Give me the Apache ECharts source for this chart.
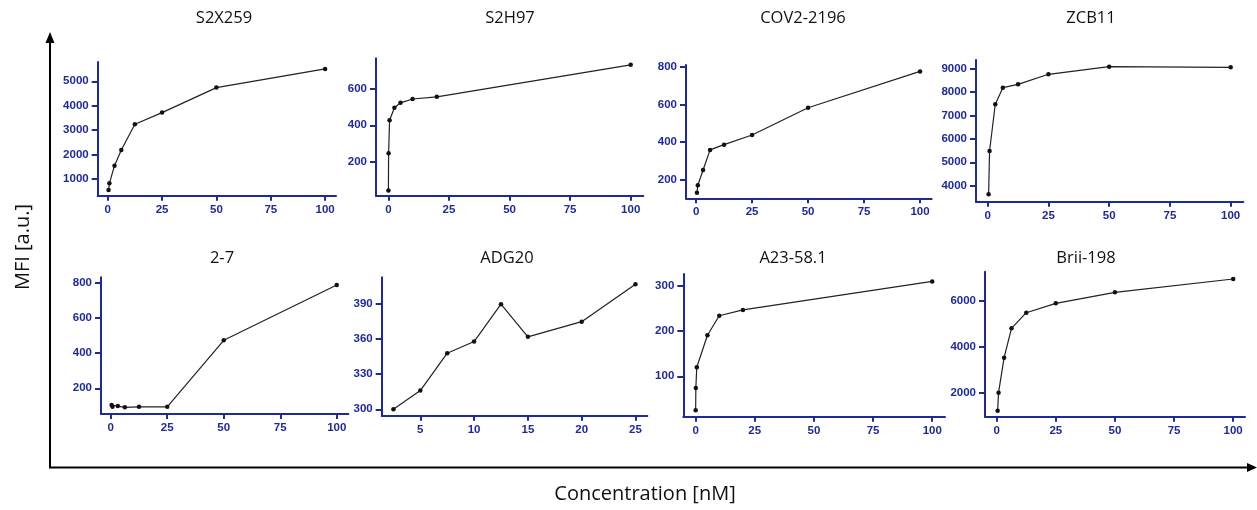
<!DOCTYPE html>
<html>
<head>
<meta charset="utf-8">
<script src="https://cdn.jsdelivr.net/npm/echarts@6/dist/echarts.min.js"></script>
<style>
  html, body { margin: 0; padding: 0; background: #ffffff; }
  #chart { width: 1257px; height: 510px; }
</style>
</head>
<body>
<div id="chart"></div>
<script>
// Antibody binding titration: MFI versus concentration, one panel per antibody.
const titles = ['S2X259', 'S2H97', 'COV2-2196', 'ZCB11', '2-7', 'ADG20', 'A23-58.1', 'Brii-198'];

// Concentrations [nM]
const s2x259Conc = [0.39, 0.78, 3.125, 6.25, 12.5, 25, 50, 100];
const s2h97Conc = [0.02, 0.1, 0.5, 2.5, 5, 10, 20, 100];
const cov2196Conc = [0.39, 0.78, 3.125, 6.25, 12.5, 25, 50, 100];
const zcb11Conc = [0.39, 0.78, 3.125, 6.25, 12.5, 25, 50, 100];
const ab27Conc = [0.39, 0.78, 3.125, 6.25, 12.5, 25, 50, 100];
const adg20Conc = [2.5, 5, 7.5, 10, 12.5, 15, 20, 25];
const a2358Conc = [0.02, 0.1, 0.5, 5, 10, 20, 100];
const brii198Conc = [0.39, 0.78, 3.125, 6.25, 12.5, 25, 50, 100];

// MFI [a.u.]
const s2x259Mfi = [549, 823, 1545, 2188, 3240, 3719, 4742, 5508];
const s2h97Mfi = [43, 246, 428, 496, 523, 544, 556, 731];
const cov2196Mfi = [131, 170, 251, 358, 386, 437, 582, 775];
const zcb11Mfi = [3632, 5483, 7479, 8188, 8333, 8761, 9085, 9060];
const ab27Mfi = [105, 95, 99, 92, 95, 95, 473, 787];
const adg20Mfi = [300, 316, 348, 358, 390, 362, 375, 407];
const a2358Mfi = [25, 74, 120, 191, 234, 247, 310];
const brii198Mfi = [1232, 2015, 3536, 4812, 5491, 5899, 6377, 6957];

// Tick labels
const concTicks = [0, 25, 50, 75, 100];
const adg20ConcTicks = [5, 10, 15, 20, 25];
const s2x259Ticks = [1000, 2000, 3000, 4000, 5000];
const s2h97Ticks = [200, 400, 600];
const cov2196Ticks = [200, 400, 600, 800];
const zcb11Ticks = [4000, 5000, 6000, 7000, 8000, 9000];
const ab27Ticks = [200, 400, 600, 800];
const adg20Ticks = [300, 330, 360, 390];
const a2358Ticks = [100, 200, 300];
const brii198Ticks = [2000, 4000, 6000];

const concs = [s2x259Conc, s2h97Conc, cov2196Conc, zcb11Conc, ab27Conc, adg20Conc, a2358Conc, brii198Conc];
const mfis = [s2x259Mfi, s2h97Mfi, cov2196Mfi, zcb11Mfi, ab27Mfi, adg20Mfi, a2358Mfi, brii198Mfi];
const xTicks = [concTicks, concTicks, concTicks, concTicks, concTicks, adg20ConcTicks, concTicks, concTicks];
const yTicks = [s2x259Ticks, s2h97Ticks, cov2196Ticks, zcb11Ticks, ab27Ticks, adg20Ticks, a2358Ticks, brii198Ticks];

// Panel frames: plot box in pixels and axis extents
const frames = [
  { left: 97.7, top: 62, right: 336, bottom: 195.7, xMin: -4.6, xMax: 105, yMin: 316, yMax: 5791, tx: 224 },
  { left: 376, top: 58.3, right: 643.3, bottom: 195.7, xMin: -5.1, xMax: 105.2, yMin: 14, yMax: 767, tx: 510 },
  { left: 686, top: 65, right: 931.7, bottom: 198.3, xMin: -4.5, xMax: 105.2, yMin: 101, yMax: 809, tx: 803 },
  { left: 976, top: 60, right: 1243.3, bottom: 201.7, xMin: -4.8, xMax: 105.2, yMin: 3316, yMax: 9372, tx: 1091 },
  { left: 101, top: 277.3, right: 348.3, bottom: 414, xMin: -4.3, xMax: 105.1, yMin: 54, yMax: 831, tx: 222 },
  { left: 381.7, top: 277.3, right: 647.3, bottom: 415.7, xMin: 1.41, xMax: 26.1, yMin: 294.5, yMax: 413, tx: 507 },
  { left: 683.3, top: 274, right: 945, bottom: 416.7, xMin: -5.2, xMax: 105.4, yMin: 10.6, yMax: 326.5, tx: 793 },
  { left: 985, top: 271.7, right: 1245, bottom: 416.7, xMin: -4.95, xMax: 105, yMin: 970, yMax: 7274, tx: 1086 }
];
const titleTops = [10, 10, 10, 10, 250, 250, 250, 250];

const axisBlue = '#1f2a99';
const labelFont = {
  color: axisBlue, fontFamily: 'Liberation Sans, Arial, sans-serif', fontWeight: 'bold', fontSize: 11.5,
  formatter: v => String(v)
};

const grids = [], xAxes = [], yAxes = [], series = [], titleList = [];
frames.forEach((f, i) => {
  grids.push({ left: f.left, top: f.top, width: f.right - f.left, height: f.bottom - f.top, containLabel: false });
  xAxes.push({
    type: 'value', gridIndex: i, min: f.xMin, max: f.xMax,
    axisLine: { show: true, onZero: false, lineStyle: { color: axisBlue, width: 2 } },
    axisTick: { show: true, length: 5, customValues: xTicks[i], lineStyle: { color: axisBlue, width: 2 } },
    axisLabel: Object.assign({ margin: 8, customValues: xTicks[i] }, labelFont),
    splitLine: { show: false }
  });
  yAxes.push({
    type: 'value', gridIndex: i, min: f.yMin, max: f.yMax,
    axisLine: { show: true, onZero: false, lineStyle: { color: axisBlue, width: 2 } },
    axisTick: { show: true, length: 6, customValues: yTicks[i], lineStyle: { color: axisBlue, width: 2 } },
    axisLabel: Object.assign({ margin: 9, customValues: yTicks[i] }, labelFont),
    splitLine: { show: false }
  });
  series.push({
    type: 'line', xAxisIndex: i, yAxisIndex: i,
    data: concs[i].map((c, k) => [c, mfis[i][k]]),
    symbol: 'circle', symbolSize: 4.5, showSymbol: true,
    lineStyle: { color: '#222222', width: 1.2 },
    itemStyle: { color: '#111111' },
    emphasis: { disabled: true },
    animation: false
  });
  titleList.push({
    text: titles[i], left: f.tx, top: titleTops[i], textAlign: 'center', padding: 0,
    textStyle: { fontFamily: 'Open Sans, sans-serif', fontWeight: 'normal', fontSize: 16.5, color: '#111111' }
  });
});

const option = {
  animation: false,
  backgroundColor: '#ffffff',
  title: titleList,
  grid: grids,
  xAxis: xAxes,
  yAxis: yAxes,
  series: series,
  graphic: [
    // outer frame arrows
    { type: 'polyline', shape: { points: [[50, 40], [50, 467.5], [1250, 467.5]] }, style: { stroke: '#000', lineWidth: 2, fill: null } },
    { type: 'polygon', shape: { points: [[50, 32], [45.5, 43], [54.5, 43]] }, style: { fill: '#000' } },
    { type: 'polygon', shape: { points: [[1257, 467.5], [1247, 463], [1247, 472]] }, style: { fill: '#000' } },
    {
      type: 'text', x: 645, y: 494,
      style: { text: 'Concentration [nM]', fill: '#111', font: '20px "Open Sans", sans-serif', align: 'center', verticalAlign: 'middle' }
    },
    {
      type: 'text', x: 23, y: 247, rotation: Math.PI / 2,
      style: { text: 'MFI [a.u.]', fill: '#111', font: '20px "Open Sans", sans-serif', align: 'center', verticalAlign: 'middle' }
    }
  ]
};

const chart = echarts.init(document.getElementById('chart'), null, { renderer: 'canvas' });
chart.setOption(option);
</script>
</body>
</html>
